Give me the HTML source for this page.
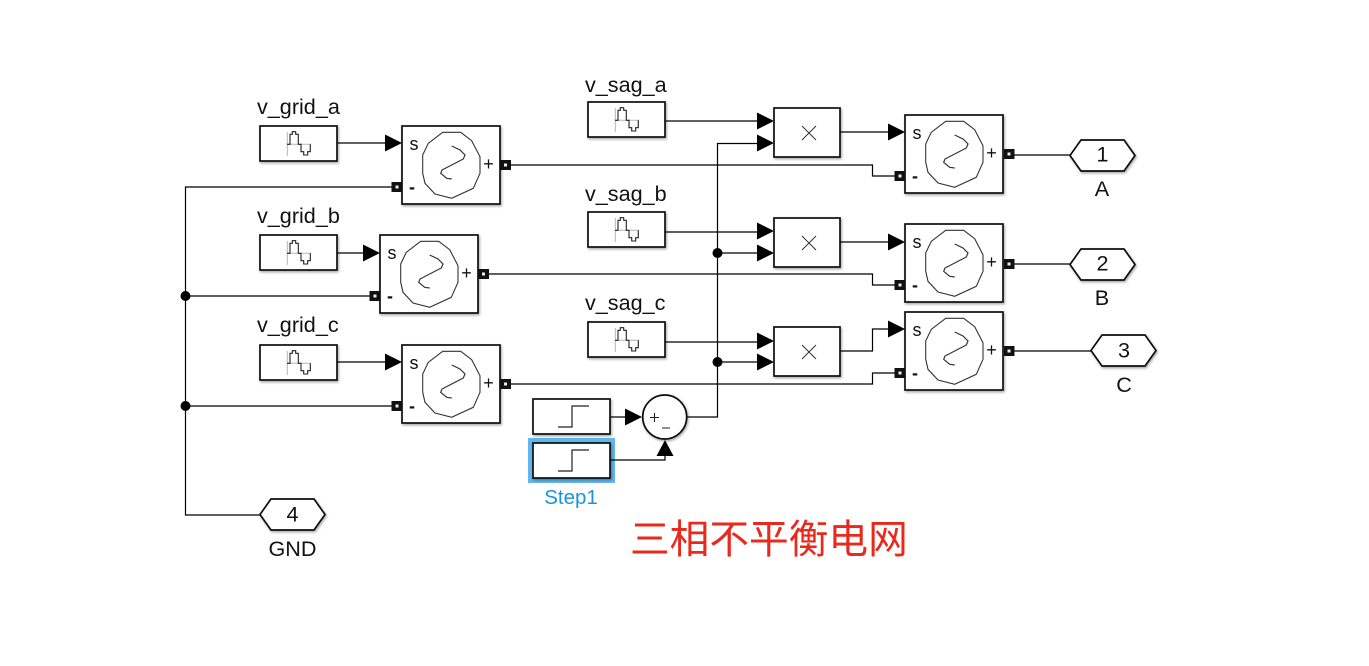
<!DOCTYPE html>
<html><head><meta charset="utf-8"><style>
html,body{margin:0;padding:0;background:#fff}
svg{display:block;filter:blur(.3px)}
text{font-family:"Liberation Sans","Noto Sans CJK SC",sans-serif;fill:#111}
.w{fill:none;stroke:#000;stroke-width:1.2}
.b{fill:#fff;stroke:#111;stroke-width:1.7;filter:url(#s)}
</style></head><body>
<svg width="1369" height="666" viewBox="0 0 1369 666" xmlns="http://www.w3.org/2000/svg">
<defs>
<filter id="s" x="-10%" y="-10%" width="125%" height="125%"><feDropShadow dx="1" dy="1.5" stdDeviation="1.2" flood-color="#000" flood-opacity=".35"/></filter>
<g id="src">
<rect class="b" x="0" y="0" width="98" height="78"/>
<path d="M40.700 6.300H58.700L69.700 14.700L78 30.700V47.300L71.300 62.300L49.700 72.300L33 68L23 57.300L20.700 47.300V29L26.300 17.300Z" fill="none" stroke="#333" stroke-width="1.100"/>
<path d="M49.700 20L58 24L63 29L61.300 33L40 44L38.700 47.300L44.700 52.300L49.700 53" fill="none" stroke="#333" stroke-width="1.200"/>
</g>
<g id="sin">
<rect class="b" x="0" y="0" width="77" height="35"/>
<path d="M27.300 6V30M27 18.300H51" stroke="#b5b5b5" stroke-width="1" fill="none"/>
<path d="M27 18.300H30V8.300H32.300V5.700H35.700V8.300H38.300V18.300H41V25.700H43.700V29H47.700V25.700H50.300V18.300" fill="none" stroke="#222" stroke-width="1.100"/>
</g>
<g id="stp">
<rect class="b" x="0" y="0" width="77" height="35"/>
<path d="M25 28H39V7H56" fill="none" stroke="#222" stroke-width="1.200"/>
</g>
<g id="prd">
<rect class="b" x="0" y="0" width="66" height="49"/>
<path d="M28 18L42 32M42 18L28 32" stroke="#333" stroke-width="1" fill="none"/>
</g>
<g id="pl"><rect x="-10.500" y="-5" width="10.500" height="10" fill="#111"/><rect x="-6.500" y="-1.500" width="3" height="3" fill="#eee"/></g>
<g id="pr"><rect x="0" y="-5" width="10.500" height="10" fill="#111"/><rect x="3.500" y="-1.500" width="3" height="3" fill="#eee"/></g>
<path id="ar" d="M-17 -8.500L0 0L-17 8.500Z" fill="#000"/>
<path id="hex" d="M0 15.500L11 0H54L65 15.500L54 31H11Z" class="b"/>
</defs>

<!-- selection highlight -->
<rect x="528" y="438" width="87" height="45" fill="#62b6ee"/>

<!-- wires -->
<g class="w">
<path d="M337 143H390M337 253H368M337 362H390"/>
<path d="M392 187H185.500V515H260M370 296H185.500M392 406H185.500"/>
<path d="M511 165H872.500V176H896M489 274H872.500V285H896M511 384H872.500V373H896"/>
<path d="M665 121H762M665 232H762M665 342H762"/>
<path d="M687 417H717.500V143.500H762M717.500 253H762M717.500 362H762"/>
<path d="M840 132H892M840 242H892M840 351H872.500V329H892"/>
<path d="M1014 155H1070M1014 264H1070M1014 351H1091"/>
<path d="M610 417H630M610 460H665V450"/>
</g>

<!-- junctions -->
<g fill="#000"><circle cx="185.500" cy="296" r="5"/><circle cx="185.500" cy="406" r="5"/><circle cx="717.500" cy="253" r="5"/><circle cx="717.500" cy="362" r="5"/></g>

<!-- arrowheads -->
<use href="#ar" x="402" y="143"/><use href="#ar" x="380" y="253"/><use href="#ar" x="402" y="362"/>
<use href="#ar" x="774" y="121"/><use href="#ar" x="774" y="143"/><use href="#ar" x="774" y="231"/><use href="#ar" x="774" y="253"/><use href="#ar" x="774" y="341"/><use href="#ar" x="774" y="362"/>
<use href="#ar" x="905" y="132"/><use href="#ar" x="905" y="242"/><use href="#ar" x="905" y="329"/>
<use href="#ar" x="642" y="417"/>
<path d="M665 440L673.500 456H656.500Z" fill="#000"/>

<!-- sources -->
<use href="#sin" x="260" y="126"/><use href="#sin" x="260" y="235"/><use href="#sin" x="260" y="345"/>
<use href="#sin" x="588" y="102"/><use href="#sin" x="588" y="212"/><use href="#sin" x="588" y="322"/>

<!-- controlled voltage sources -->
<use href="#src" x="402" y="126"/><use href="#src" x="380" y="235"/><use href="#src" x="402" y="345"/>
<use href="#src" x="905" y="115"/><use href="#src" x="905" y="224"/><use href="#src" x="905" y="312"/>

<!-- ports -->
<use href="#pr" x="500.500" y="165"/><use href="#pl" x="402" y="187"/>
<use href="#pr" x="478.500" y="274"/><use href="#pl" x="380" y="296"/>
<use href="#pr" x="500.500" y="384"/><use href="#pl" x="402" y="406"/>
<use href="#pr" x="1004" y="154"/><use href="#pl" x="905" y="176"/>
<use href="#pr" x="1004" y="264"/><use href="#pl" x="905" y="285"/>
<use href="#pr" x="1004" y="351"/><use href="#pl" x="905" y="373"/>

<!-- products -->
<use href="#prd" x="774" y="108"/><use href="#prd" x="774" y="218"/><use href="#prd" x="774" y="327"/>

<!-- steps and sum -->
<use href="#stp" x="533" y="399"/><use href="#stp" x="533" y="443"/>
<circle cx="664.700" cy="417" r="22" class="b"/>
<path d="M650 417.500H659M654.500 413V422M662 428H670" stroke="#222" stroke-width="1.100" fill="none"/>

<!-- hex ports -->
<use href="#hex" x="1070" y="140"/><use href="#hex" x="1070" y="249"/><use href="#hex" x="1091" y="335"/><use href="#hex" x="260" y="499"/>

<!-- labels -->
<g font-size="21.600">
<text x="257" y="114">v_grid_a</text>
<text x="257" y="223">v_grid_b</text>
<text x="257" y="332">v_grid_c</text>
<text x="585" y="92">v_sag_a</text>
<text x="585" y="201">v_sag_b</text>
<text x="585" y="310">v_sag_c</text>
<g text-anchor="middle">
<text x="1102" y="196">A</text>
<text x="1102" y="305">B</text>
<text x="1124" y="392">C</text>
<text x="292.500" y="556">GND</text>
<text x="1102.500" y="161.500">1</text>
<text x="1102.500" y="270.500">2</text>
<text x="1124" y="357.500">3</text>
<text x="292.500" y="521.500">4</text>
<text x="571" y="504" font-size="20.500" style="fill:#1b93dc">Step1</text>
</g>
</g>
<g font-size="18" text-anchor="middle">
<text x="414" y="150">s</text><text x="392" y="259">s</text><text x="414" y="369">s</text>
<text x="917" y="139">s</text><text x="917" y="248">s</text><text x="917" y="336">s</text>
<text x="488.500" y="170">+</text><text x="466.500" y="279">+</text><text x="488.500" y="389">+</text>
<text x="991.500" y="159">+</text><text x="991.500" y="268">+</text><text x="991.500" y="356">+</text>
</g>
<g font-size="18" font-weight="bold" text-anchor="middle">
<text x="412" y="193">-</text><text x="390" y="302">-</text><text x="412" y="412">-</text>
<text x="915" y="182">-</text><text x="915" y="291">-</text><text x="915" y="379">-</text>
</g>
<text x="630" y="553" font-size="39.700" style="fill:#e8291c">三相不平衡电网</text>
</svg>
</body></html>
